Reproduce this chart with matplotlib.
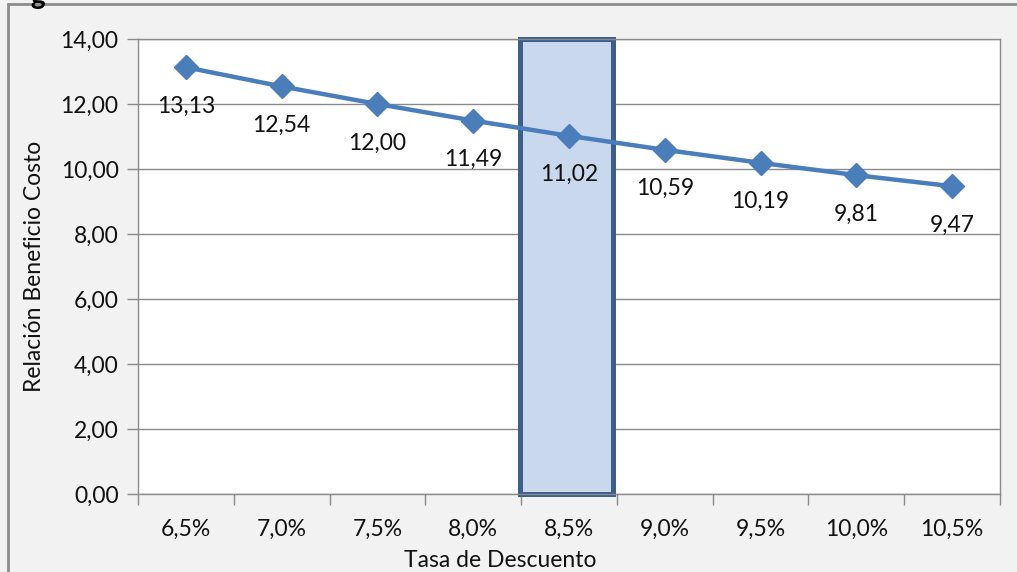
import matplotlib
matplotlib.use("Agg")
import matplotlib.pyplot as plt
from matplotlib.patches import Rectangle

categories = ["6,5%", "7,0%", "7,5%", "8,0%", "8,5%", "9,0%", "9,5%", "10,0%", "10,5%"]
values = [13.13, 12.54, 12.00, 11.49, 11.02, 10.59, 10.19, 9.81, 9.47]
highlight_index = 4
y_ticks = [0, 2, 4, 6, 8, 10, 12, 14]
x_title = "Tasa de Descuento"
y_title = "Relación Beneficio Costo"

FONT = "Lato"
W, H = 1017, 572
fig = plt.figure(figsize=(W / 100, H / 100), dpi=100)
fig.patch.set_facecolor("#f2f2f2")

# outer frame
fig.patches.append(Rectangle((8 / W, -0.1), 1.2, (H - 4) / H + 0.1, transform=fig.transFigure,
                             fill=False, edgecolor="#8c8c8c", linewidth=2.0))
fig.text(38 / W, (H + 4) / H, "g", fontsize=20, fontweight="bold", family=FONT,
         ha="center", va="center", color="black")

ax = fig.add_axes([138 / W, (H - 494) / H, (1000 - 138) / W, (494 - 39) / H])
ax.set_facecolor("white")
n = len(categories)
x = list(range(n))
ax.set_xlim(-0.5, n - 0.5)
ax.set_ylim(0, 14)

TXT = "#111111"
FS = 16.5
ax.set_yticks(y_ticks)
ax.set_yticklabels([f"{v:.2f}".replace(".", ",") for v in y_ticks], family=FONT, fontsize=FS, color=TXT)
ax.yaxis.grid(True, color="#8a8a8a", linewidth=1.0)
ax.set_axisbelow(True)

ax.set_xticks([i - 0.5 for i in range(n + 1)], minor=False)
ax.set_xticklabels([])
ax.set_xticks(x, minor=True)
ax.set_xticklabels(categories, minor=True, family=FONT, fontsize=FS, color=TXT)
ax.tick_params(axis="x", which="minor", length=0, pad=18)
ax.tick_params(axis="x", which="major", length=8, color="#8a8a8a", width=1)
ax.tick_params(axis="y", length=8, color="#8a8a8a", width=1, pad=6)

for s in ax.spines.values():
    s.set_color("#8a8a8a")
    s.set_linewidth(1.0)

# highlight rectangle
ax.add_patch(Rectangle((highlight_index - 0.51, 0), 0.97, 14, facecolor="#c9d8ec",
                       edgecolor="#3b5e8c", linewidth=3.6, zorder=2, clip_on=False))

ax.plot(x, values, color="#4a7ebb", linewidth=3.2, marker="D", markersize=12,
        markerfacecolor="#4a7ebb", markeredgecolor="#4a7ebb", zorder=3, clip_on=False)

for xi, v in zip(x, values):
    ax.annotate(f"{v:.2f}".replace(".", ","), (xi, v), xytext=(0, -28), textcoords="offset points",
                ha="center", va="center", family=FONT, fontsize=FS, color=TXT, zorder=4)

ax.set_xlabel(x_title, family=FONT, fontsize=FS, color=TXT, labelpad=0)
ax.xaxis.set_label_coords(0.42, -0.122)
ax.set_ylabel(y_title, family=FONT, fontsize=FS, color=TXT)
ax.yaxis.set_label_coords(-0.108, 0.5)

fig.savefig("out.png", dpi=100, facecolor=fig.get_facecolor())
